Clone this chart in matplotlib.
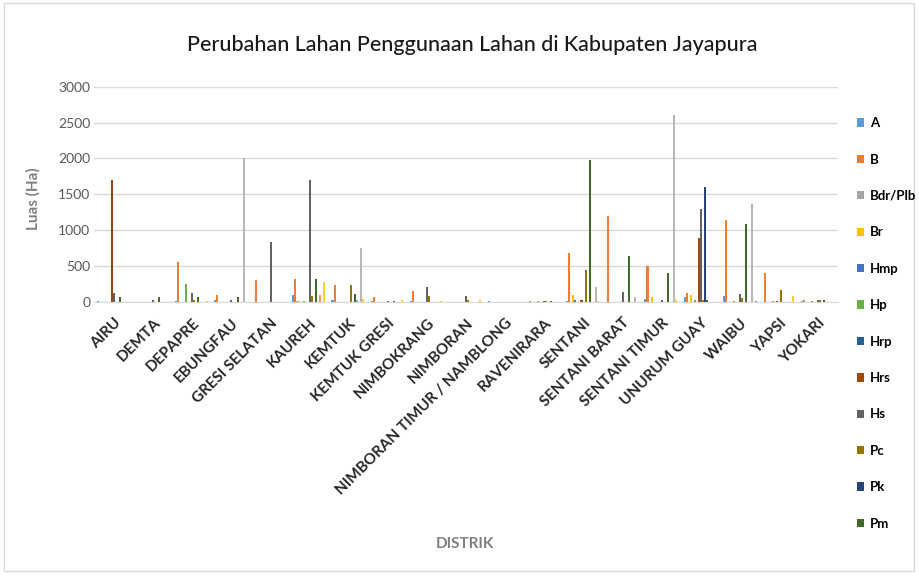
import numpy as np
import matplotlib.pyplot as plt
from matplotlib.patches import Rectangle

plt.rcParams['font.family'] = ['Lato', 'DejaVu Sans']

distrik = ['AIRU', 'DEMTA', 'DEPAPRE', 'EBUNGFAU', 'GRESI SELATAN', 'KAUREH',
           'KEMTUK', 'KEMTUK GRESI', 'NIMBOKRANG', 'NIMBORAN',
           'NIMBORAN TIMUR / NAMBLONG', 'RAVENIRARA', 'SENTANI', 'SENTANI BARAT',
           'SENTANI TIMUR', 'UNURUM GUAY', 'WAIBU', 'YAPSI', 'YOKARI']

# values (Ha), one list per land-use class
A       = [10, 0, 15, 25, 0, 90, 30, 15, 15, 0, 15, 0, 15, 0, 45, 60, 80, 0, 15]
B       = [0, 0, 560, 90, 310, 320, 230, 60, 150, 0, 0, 10, 680, 1200, 500, 120, 1140, 400, 30]
Bdr_Plb = [0, 0, 0, 0, 0, 10, 0, 0, 0, 0, 0, 0, 0, 0, 0, 0, 0, 0, 0]
Br      = [0, 0, 0, 0, 0, 15, 0, 0, 0, 0, 0, 0, 90, 0, 60, 100, 0, 0, 0]
Hmp     = [0, 0, 0, 0, 0, 0, 0, 0, 0, 0, 0, 0, 25, 0, 0, 0, 0, 0, 0]
Hp      = [0, 0, 250, 0, 0, 10, 0, 0, 0, 0, 0, 10, 0, 0, 0, 20, 15, 10, 15]
Hrp     = [0] * 19
Hrs     = [1700, 0, 0, 0, 0, 0, 0, 0, 0, 0, 0, 0, 30, 0, 0, 890, 0, 15, 0]
Hs      = [120, 30, 125, 20, 830, 1700, 0, 15, 200, 80, 0, 15, 0, 140, 20, 1300, 110, 0, 30]
Pc      = [0, 0, 20, 0, 0, 80, 230, 0, 80, 20, 0, 15, 450, 0, 0, 20, 50, 170, 20]
Pk      = [0, 0, 0, 0, 0, 0, 0, 0, 0, 0, 0, 0, 0, 0, 0, 1600, 0, 0, 0]
Pm      = [60, 60, 60, 60, 0, 320, 110, 15, 0, 0, 0, 15, 1980, 640, 400, 30, 1090, 0, 30]
# classes drawn in the chart but cut off from its legend
Pt      = [0, 0, 0, 0, 0, 0, 20, 0, 0, 0, 0, 0, 0, 0, 0, 0, 0, 0, 0]
Rw      = [0, 0, 0, 0, 0, 90, 0, 0, 0, 0, 0, 0, 0, 0, 0, 0, 0, 0, 0]
S       = [0, 0, 0, 2000, 0, 0, 750, 0, 0, 0, 0, 0, 210, 60, 2610, 0, 1360, 0, 0]
Sw      = [0, 0, 10, 0, 0, 280, 40, 30, 10, 30, 0, 0, 10, 0, 20, 0, 0, 80, 0]
T       = [0, 0, 0, 0, 0, 0, 0, 0, 0, 0, 0, 0, 0, 0, 0, 0, 15, 0, 0]

series = [('A', A), ('B', B), ('Bdr/Plb', Bdr_Plb), ('Br', Br), ('Hmp', Hmp),
          ('Hp', Hp), ('Hrp', Hrp), ('Hrs', Hrs), ('Hs', Hs), ('Pc', Pc),
          ('Pk', Pk), ('Pm', Pm), ('Pt', Pt), ('Rw', Rw), ('S', S), ('Sw', Sw), ('T', T)]
n_legend = 12

colors = ['#5B9BD5', '#ED7D31', '#A5A5A5', '#FFC000', '#4472C4', '#70AD47',
          '#255E91', '#9E480E', '#636363', '#997300', '#264478', '#43682B',
          '#7CAFDD', '#F1975A', '#B7B7B7', '#FFCD33', '#698ED0']

fig = plt.figure(figsize=(9.2, 5.77), dpi=100)
ax = fig.add_axes([0.1027, 0.477, 0.808, 0.3727])

x = np.arange(len(distrik))
n = len(series)
w = 1.0 / (n + 2.19)
handles = []
for i, (name, vals) in enumerate(series):
    b = ax.bar(x + (i - (n - 1) / 2) * w, vals, width=w, color=colors[i], label=name)
    handles.append(b)

ax.set_xlim(-0.5, len(distrik) - 0.5)
ax.set_ylim(0, 3000)
ax.set_yticks(np.arange(0, 3001, 500))
ax.yaxis.grid(True, color='#d9d9d9', lw=1)
ax.set_axisbelow(True)
for s in ['top', 'right', 'left']:
    ax.spines[s].set_visible(False)
ax.spines['bottom'].set_color('#d9d9d9')
ax.tick_params(length=0)
ax.tick_params(axis='y', labelsize=10, labelcolor='#595959', pad=3)
ax.set_xticks(x)
ax.set_xticklabels(distrik, rotation=45, ha='right', rotation_mode='anchor',
                   fontsize=11, fontweight='bold', color='#262626')
ax.tick_params(axis='x', pad=10)

ax.set_ylabel('Luas (Ha)', fontsize=11, fontweight='bold', color='#7f7f7f')
ax.yaxis.set_label_coords(-0.073, 0.48)
fig.text(0.505, 0.058, 'DISTRIK', ha='center', va='center', fontsize=11,
         fontweight='bold', color='#7f7f7f')
fig.text(0.513, 0.922, 'Perubahan Lahan Penggunaan Lahan di Kabupaten Jayapura',
         ha='center', va='center', fontsize=15.5, fontweight='medium', color='#1a1a1a')

fig.legend(handles[:n_legend], [s[0] for s in series[:n_legend]],
           loc='upper left', bbox_to_anchor=(0.931, 0.797), frameon=False,
           prop={'weight': 'bold', 'size': 9.5},
           handlelength=0.6, handleheight=0.6, handletextpad=0.4,
           labelspacing=1.85, borderaxespad=0, borderpad=0)

fig.patches.append(Rectangle((0.004, 0.01), 0.99, 0.985, transform=fig.transFigure,
                             fill=False, edgecolor='#d9d9d9', lw=1))

fig.savefig('out.png', dpi=100)
